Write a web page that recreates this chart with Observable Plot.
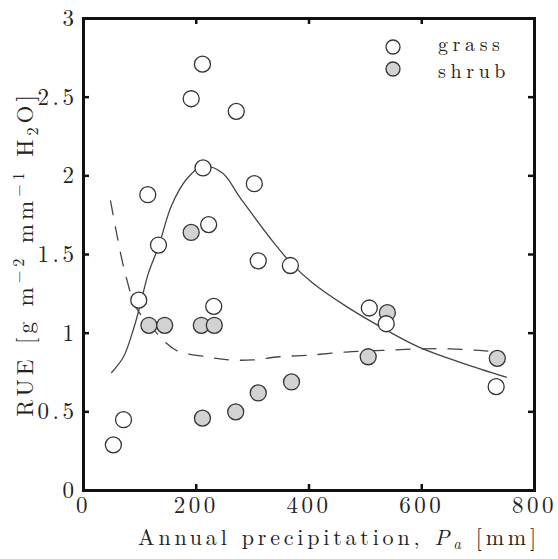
<!DOCTYPE html>
<html><head><meta charset="utf-8">
<script src="https://cdn.jsdelivr.net/npm/d3@7"></script>
<script src="https://cdn.jsdelivr.net/npm/@observablehq/plot@0.6"></script>
<style>
body{margin:0;background:#fff;}
#chart{width:558px;height:559px;}
</style></head><body><div id="chart"></div>
<script>
// Grass (open circles)
const grassX = [53, 71, 98, 114, 133, 191, 211, 212, 222, 231, 271, 303, 310, 367, 507, 537, 732];
const grassY = [0.29, 0.45, 1.21, 1.88, 1.56, 2.49, 2.71, 2.05, 1.69, 1.17, 2.41, 1.95, 1.46, 1.43, 1.16, 1.06, 0.66];
// Shrub (grey circles)
const shrubX = [116, 144, 191, 209, 211, 232, 270, 310, 369, 505, 539, 734];
const shrubY = [1.05, 1.05, 1.64, 1.05, 0.46, 1.05, 0.50, 0.62, 0.69, 0.85, 1.13, 0.84];
// Grass fit (solid)
const solidX = [50, 71, 89, 100, 115, 133, 156, 183, 211, 246, 278, 332, 367, 406, 466, 537, 596, 672, 750];
const solidY = [0.75, 0.85, 1.03, 1.17, 1.38, 1.55, 1.81, 1.98, 2.06, 2.02, 1.86, 1.60, 1.45, 1.32, 1.17, 1.02, 0.91, 0.81, 0.72];
// Shrub fit (dashed)
const dashX = [48, 59, 74, 94, 130, 165, 218, 260, 300, 347, 400, 466, 530, 596, 650, 702, 743];
const dashY = [1.84, 1.63, 1.38, 1.16, 1.00, 0.89, 0.85, 0.83, 0.83, 0.85, 0.86, 0.88, 0.89, 0.90, 0.90, 0.89, 0.88];
// Ticks
const xTickLabels = [0, 200, 400, 600, 800];
const xInnerTicks = [200, 400, 600];
const yTickLabels = [0, 0.5, 1, 1.5, 2, 2.5, 3];
const yInnerTicks = [0.5, 1, 1.5, 2, 2.5];
const legendNames = ["grass", "shrub"];

const zip = (xs, ys) => xs.map((x, i) => ({x, y: ys[i]}));
const grass = zip(grassX, grassY);
const shrub = zip(shrubX, shrubY);
const solid = zip(solidX, solidY);
const dashed = zip(dashX, dashY);

const FONT = "Latin Modern Roman, CMU Serif, Liberation Serif, serif";
const W = 558, H = 559, ML = 83, MT = 18, MR = 24, MB = 69;
const fw = W - ML - MR, fh = H - MT - MB;
const ink = "#222";

const plot = Plot.plot({
  width: W, height: H,
  marginLeft: ML, marginTop: MT, marginRight: MR, marginBottom: MB,
  x: {domain: [0, 800]},
  y: {domain: [0, 3]},
  style: {fontFamily: FONT, fontSize: "23px", letterSpacing: "3.5px", color: ink, background: "#fff"},
  marks: [
    Plot.line(solid, {x: "x", y: "y", curve: "catmull-rom", stroke: "#444", strokeWidth: 1.3}),
    Plot.line(dashed, {x: "x", y: "y", curve: "catmull-rom", stroke: "#444", strokeWidth: 1.3, strokeDasharray: "14,12"}),
    Plot.dot(shrub, {x: "x", y: "y", r: 8, fill: "#d2d2d2", stroke: "#333", strokeWidth: 1.3}),
    Plot.dot(grass, {x: "x", y: "y", r: 8, fill: "white", stroke: "#333", strokeWidth: 1.3}),
    Plot.frame({stroke: "#111", strokeWidth: 3}),
    Plot.tickX(xInnerTicks, {x: d => d, insetTop: fh - 6, stroke: "#111", strokeWidth: 2.5}),
    Plot.tickX(xInnerTicks, {x: d => d, insetBottom: fh - 6, stroke: "#111", strokeWidth: 2.5}),
    Plot.tickY(yInnerTicks, {y: d => d, insetRight: fw - 6, stroke: "#111", strokeWidth: 2.5}),
    Plot.tickY(yInnerTicks, {y: d => d, insetLeft: fw - 6, stroke: "#111", strokeWidth: 2.5}),
    Plot.axisX({anchor: "bottom", ticks: xTickLabels, tickSize: 0, tickPadding: 6, tickFormat: d => String(d), label: null}),
    Plot.axisY({anchor: "left", ticks: yTickLabels, tickSize: 0, tickPadding: 6, tickFormat: d => String(d), label: null})
  ]
});
document.getElementById("chart").appendChild(plot);

const svg = d3.select(plot);
// x label
const xl = svg.append("text").attr("x", 339).attr("y", 545).attr("text-anchor", "middle")
  .attr("fill", ink).attr("font-size", 22);
xl.append("tspan").text("Annual precipitation, ");
xl.append("tspan").attr("font-style", "italic").text("P");
xl.append("tspan").attr("font-style", "italic").attr("font-size", 15).attr("dy", 4).text("a");
xl.append("tspan").attr("dy", -4).text(" [mm]");
// y label
const yl = svg.append("text").attr("transform", "translate(33,254) rotate(-90)").attr("text-anchor", "middle")
  .attr("fill", ink).attr("font-size", 23);
yl.append("tspan").text("RUE [g m");
yl.append("tspan").attr("font-size", 16).attr("dy", -9).text("\u22122");
yl.append("tspan").attr("dy", 9).text(" mm");
yl.append("tspan").attr("font-size", 16).attr("dy", -9).text("\u22121");
yl.append("tspan").attr("dy", 9).text(" H");
yl.append("tspan").attr("font-size", 16).attr("dy", 5).text("2");
yl.append("tspan").attr("dy", -5).text("O]");
// legend
const leg = svg.append("g");
legendNames.forEach((name, i) => {
  const cy = 47 + i * 22;
  leg.append("circle").attr("cx", 393).attr("cy", cy).attr("r", 7)
    .attr("fill", i === 0 ? "white" : "#d2d2d2").attr("stroke", "#333").attr("stroke-width", 1.3);
  leg.append("text").attr("class", "legtext").attr("x", 438).attr("y", 51 + i * 27).attr("fill", ink).attr("text-anchor", "start")
    .attr("font-size", 20).text(name);
});
// force the serif family on every text node
svg.selectAll("text, tspan").attr("font-family", FONT).style("font-family", FONT);
svg.selectAll("text").style("letter-spacing", "3.5px");
xl.style("letter-spacing", "3.8px");
yl.style("letter-spacing", "4px");
svg.selectAll(".legtext").style("letter-spacing", "4.6px");
</script>
</body></html>
